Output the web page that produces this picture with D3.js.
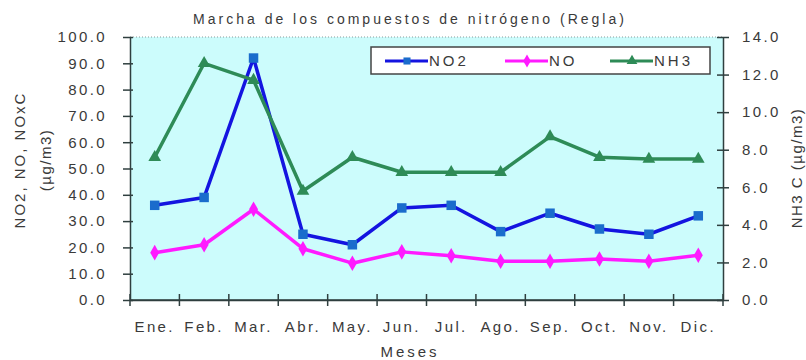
<!DOCTYPE html>
<html>
<head>
<meta charset="utf-8">
<script src="https://cdn.jsdelivr.net/npm/d3@7"></script>
<style>
  body { margin: 0; background: #fff; }
  svg { display: block; font-family: "Liberation Sans", Arial, sans-serif; }
</style>
</head>
<body>
<svg id="chart" width="806" height="360"></svg>
<script>
// Monthly nitrogen compound concentrations (Regla)
const months = ["Ene.", "Feb.", "Mar.", "Abr.", "May.", "Jun.", "Jul.", "Ago.", "Sep.", "Oct.", "Nov.", "Dic."];
const no2 = [36, 39, 92, 25, 21, 35, 36, 26, 33, 27, 25, 32];
const no  = [18, 21, 34.5, 19.5, 14, 18.3, 16.8, 14.7, 14.7, 15.6, 14.7, 17];
const nh3 = [7.6, 12.6, 11.7, 5.8, 7.6, 6.8, 6.8, 6.8, 8.7, 7.6, 7.5, 7.5];
const leftTicks  = [0, 10, 20, 30, 40, 50, 60, 70, 80, 90, 100];
const rightTicks = [0, 2, 4, 6, 8, 10, 12, 14];

const svg = d3.select("#chart");
const L = 130, R = 723, T = 37, B = 300;
const textColor = "#3a3a3a";
const axisColor = "#2f3f3f";

const x = d3.scaleBand().domain(months).range([L, R]);
const yL = d3.scaleLinear().domain([0, 100]).range([B, T]);
const yR = d3.scaleLinear().domain([0, 14]).range([B, T]);

// plot background
svg.append("rect").attr("x", L).attr("y", T).attr("width", R - L).attr("height", B - T)
  .attr("fill", "#ccfcfc");
// dotted top border
svg.append("line").attr("x1", L).attr("x2", R).attr("y1", T).attr("y2", T)
  .attr("stroke", "#8a9a9a").attr("stroke-width", 1).attr("stroke-dasharray", "1,2");

// left axis
const gL = svg.append("g").attr("transform", `translate(${L},0)`)
  .call(d3.axisLeft(yL).tickValues(leftTicks).tickFormat(d3.format(".1f")).tickSizeInner(7).tickSizeOuter(0).tickPadding(16));
gL.selectAll(".tick line").attr("x2", -7).attr("x1", 3);
// right axis
const gR = svg.append("g").attr("transform", `translate(${R},0)`)
  .call(d3.axisRight(yR).tickValues(rightTicks).tickFormat(d3.format(".1f")).tickSizeInner(6).tickSizeOuter(0).tickPadding(13));
gR.selectAll(".tick line").attr("x1", -6).attr("x2", 6);
// bottom axis: ticks at category boundaries
const gB = svg.append("g").attr("transform", `translate(0,${B})`)
  .call(d3.axisBottom(x).tickSize(0).tickPadding(21));
const bounds = months.map(m => x(m)).concat([R]);
gB.selectAll(".bound").data(bounds).join("line").attr("class", "bound")
  .attr("x1", d => d).attr("x2", d => d).attr("y1", -6).attr("y2", 6);

[gL, gR, gB].forEach(g => {
  g.selectAll(".domain, line").attr("stroke", axisColor).attr("stroke-width", 1.5);
  g.selectAll("text").attr("fill", textColor).attr("font-size", 15).attr("letter-spacing", "2.4px");
});
gB.append("line").attr("x1", L).attr("x2", R).attr("stroke", axisColor).attr("stroke-width", 1.5);

const cx = m => x(m) + x.bandwidth() / 2;

const series = [
  { name: "NO2", values: no2, y: yL, color: "#1414e0", marker: "square" },
  { name: "NO",  values: no,  y: yL, color: "#ff1aff", marker: "diamond" },
  { name: "NH3", values: nh3, y: yR, color: "#2e8b57", marker: "triangle" }
];

const symbols = { square: d3.symbolSquare, diamond: d3.symbolDiamond, triangle: d3.symbolTriangle };
const markerFill = { NO2: "#1a6ccc", NO: "#ff1aff", NH3: "#2e8b57" };

series.forEach(s => {
  const line = d3.line().x((d, i) => cx(months[i])).y(d => s.y(d));
  svg.append("path").datum(s.values).attr("d", line)
    .attr("fill", "none").attr("stroke", s.color).attr("stroke-width", 3.5).attr("stroke-linejoin", "round");
  svg.append("g").selectAll("path").data(s.values).join("path")
    .attr("transform", (d, i) => `translate(${cx(months[i])},${s.y(d)})`)
    .attr("d", d3.symbol().type(symbols[s.marker]).size(s.marker === "square" ? 90 : 70))
    .attr("fill", markerFill[s.name]);
});

// legend
const lg = svg.append("g");
lg.append("rect").attr("x", 371).attr("y", 47).attr("width", 339).attr("height", 27)
  .attr("fill", "#fff").attr("stroke", "#444").attr("stroke-width", 1.5);
const legendPos = [385, 505, 610];
series.forEach((s, i) => {
  const x0 = legendPos[i];
  lg.append("line").attr("x1", x0).attr("x2", x0 + 43).attr("y1", 61).attr("y2", 61)
    .attr("stroke", s.color).attr("stroke-width", 3);
  lg.append("path").attr("transform", `translate(${x0 + 22},61)`)
    .attr("d", d3.symbol().type(symbols[s.marker]).size(50)).attr("fill", markerFill[s.name]);
  lg.append("text").attr("x", x0 + 44).attr("y", 66).text(s.name)
    .attr("fill", textColor).attr("font-size", 15).attr("letter-spacing", "3px");
});

// title and axis titles
svg.append("text").attr("x", 410).attr("y", 24).attr("text-anchor", "middle")
  .attr("fill", textColor).attr("font-size", 14).attr("letter-spacing", "3px")
  .text("Marcha de los compuestos de nitrógeno (Regla)");
svg.append("text").attr("x", 410).attr("y", 357).attr("text-anchor", "middle")
  .attr("fill", textColor).attr("font-size", 15).attr("letter-spacing", "3px").text("Meses");
svg.append("text").attr("transform", "translate(25,160) rotate(-90)").attr("text-anchor", "middle")
  .attr("fill", textColor).attr("font-size", 15).attr("letter-spacing", "2px").text("NO2, NO, NOxC");
svg.append("text").attr("transform", "translate(51,160) rotate(-90)").attr("text-anchor", "middle")
  .attr("fill", textColor).attr("font-size", 15).attr("letter-spacing", "1.5px").text("(µg/m3)");
svg.append("text").attr("transform", "translate(802,168) rotate(-90)").attr("text-anchor", "middle")
  .attr("fill", textColor).attr("font-size", 15).attr("letter-spacing", "1.5px").text("NH3 C (µg/m3)");
</script>
</body>
</html>
